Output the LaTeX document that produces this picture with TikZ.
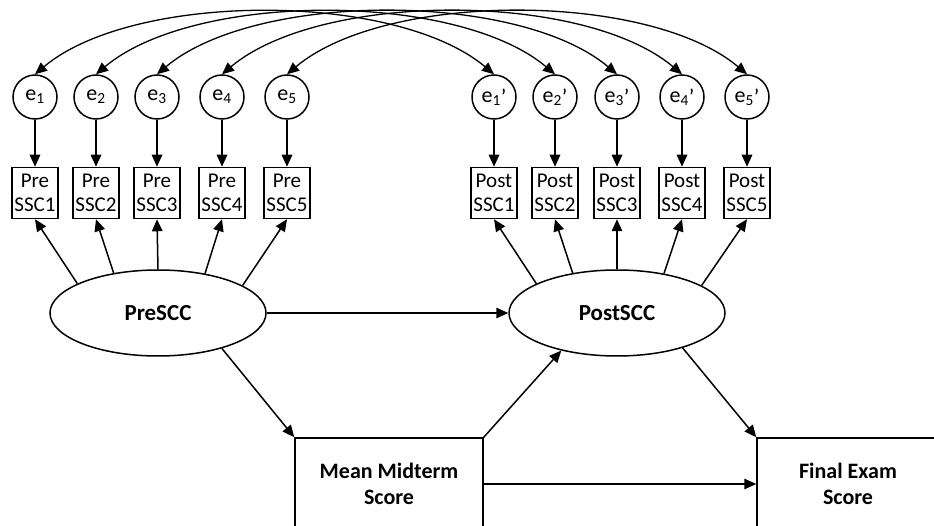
\documentclass[tikz,border=0pt]{standalone}
\usepackage{fontspec}
\setmainfont{Carlito}
\usetikzlibrary{arrows.meta,shapes.geometric}
\tikzset{
  >={Triangle[length=12pt,width=10.5pt]},
  errv/.style={circle,draw=black,line width=1.5pt,minimum size=44pt,
    inner sep=0pt,font=\fontsize{22}{24}\selectfont},
  indbox/.style={draw=black,line width=1.5pt,minimum width=46pt,
    minimum height=51pt,inner sep=1pt,align=center,
    font=\fontsize{21}{24}\selectfont},
  latent/.style={ellipse,draw=black,line width=1.5pt,minimum width=216pt,
    minimum height=86pt,inner sep=0pt,font=\fontsize{23}{26}\selectfont\bfseries},
  obsbox/.style={draw=black,line width=1.5pt,minimum height=92pt,
    align=center,font=\fontsize{22}{26}\selectfont\bfseries},
  regpath/.style={->,line width=1.5pt},
  covpath/.style={<->,line width=1.3pt,out=40,in=140,looseness=0.72},
}
\newcommand{\errprime}{\raisebox{-2pt}{’}}
\begin{document}
\begin{tikzpicture}[x=1pt,y=1pt]
  \useasboundingbox (0,0) rectangle (934,525);
  \clip (0,0) rectangle (934,525);
  % measurement model
  \foreach \i/\x/\xp in {1/35/494,2/96/555,3/157/617,4/222/682,5/287/747} {
    \node[errv] (e\i) at (\x,428) {e\textsubscript{\i}};
    \node[errv] (e\i p) at (\xp,428) {e\textsubscript{\i}\errprime};
    \node[indbox] (ipre\i) at (\x,332) {Pre\\SSC\i};
    \node[indbox] (ipost\i) at (\xp,332) {Post\\SSC\i};
    \draw[regpath] (e\i) -- (ipre\i);
    \draw[regpath] (e\i p) -- (ipost\i);
  }
  \node[latent] (pre) at (158,212) {PreSCC};
  \node[latent] (post) at (617,212) {PostSCC};
  \node[obsbox,minimum width=188pt] (mid) at (389,41) {Mean Midterm\\Score};
  \node[obsbox,minimum width=182pt] (fin) at (848,41) {Final Exam\\Score};
  \foreach \i/\a in {1/160,2/138,3/90,4/40,5/18} {
    \draw[regpath] (pre.\a) -- (ipre\i.south);
    \draw[regpath] (post.\a) -- (ipost\i.south);
  }
  % covariances
  \foreach \i in {1,...,5} {
    \draw[covpath] (e\i.north) to (e\i p.north);
  }
  % structural paths
  \draw[regpath] (pre) -- (post);
  \draw[regpath] (pre.-29) -- (mid.north west);
  \draw[regpath] (mid.north east) -- (post.214);
  \draw[regpath] (post.-28) -- (fin.north west);
  \draw[regpath] (mid.east) -- (fin.west);
\end{tikzpicture}
\end{document}
